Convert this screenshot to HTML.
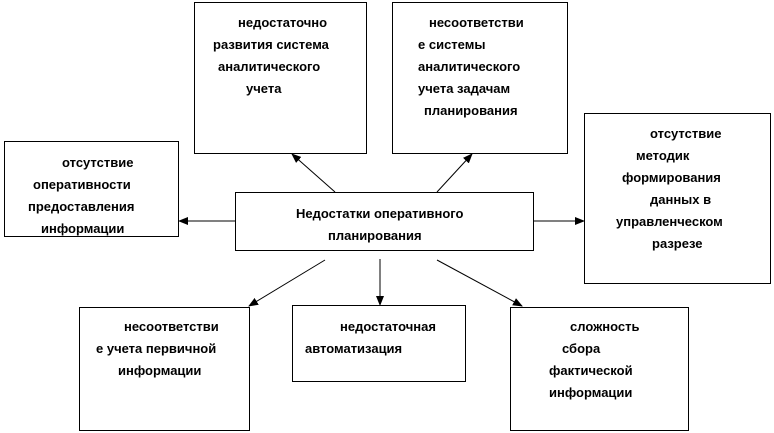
<!DOCTYPE html>
<html><head><meta charset="utf-8"><style>
html,body{margin:0;padding:0;background:#fff;}
svg{display:block;}
text{font-family:"Liberation Sans",sans-serif;font-weight:bold;font-size:13px;fill:#000;}
</style></head><body>
<svg width="774" height="433" viewBox="0 0 774 433" xmlns="http://www.w3.org/2000/svg">
<defs><marker id="a" markerWidth="10" markerHeight="8" refX="9" refY="4" orient="auto" markerUnits="userSpaceOnUse"><path d="M0,0 L10,4 L0,8 Z" fill="#000"/></marker></defs>
<g fill="none" stroke="#000" stroke-width="1">
<rect x="194.5" y="2.5" width="172" height="151"/>
<rect x="392.5" y="2.5" width="175" height="151"/>
<rect x="235.5" y="192.5" width="298" height="58"/>
<rect x="4.5" y="141.5" width="174" height="95"/>
<rect x="584.5" y="113.5" width="186" height="170"/>
<rect x="79.5" y="307.5" width="170" height="123"/>
<rect x="292.5" y="305.5" width="173" height="76"/>
<rect x="510.5" y="307.5" width="178" height="123"/>
<line x1="335" y1="192" x2="292" y2="154" marker-end="url(#a)"/>
<line x1="437" y1="192" x2="472" y2="154" marker-end="url(#a)"/>
<line x1="235" y1="221" x2="179" y2="221" marker-end="url(#a)"/>
<line x1="533" y1="221" x2="584" y2="221" marker-end="url(#a)"/>
<line x1="325" y1="260" x2="249" y2="306" marker-end="url(#a)"/>
<line x1="380" y1="259" x2="380" y2="305" marker-end="url(#a)"/>
<line x1="437" y1="260" x2="522" y2="306" marker-end="url(#a)"/>
</g>
<text x="238" y="27">недостаточно</text>
<text x="213" y="49">развития система</text>
<text x="218" y="71">аналитического</text>
<text x="246" y="93">учета</text>
<text x="429" y="27">несоответстви</text>
<text x="418" y="49">е системы</text>
<text x="418" y="71">аналитического</text>
<text x="418" y="93">учета задачам</text>
<text x="424" y="115">планирования</text>
<text x="62" y="167">отсутствие</text>
<text x="33" y="189">оперативности</text>
<text x="28" y="211">предоставления</text>
<text x="41" y="233">информации</text>
<text x="296" y="218">Недостатки оперативного</text>
<text x="328" y="240">планирования</text>
<text x="650" y="138">отсутствие</text>
<text x="636" y="160">методик</text>
<text x="622" y="182">формирования</text>
<text x="650" y="204">данных в</text>
<text x="616" y="226">управленческом</text>
<text x="652" y="248">разрезе</text>
<text x="124" y="331">несоответстви</text>
<text x="96" y="353">е учета первичной</text>
<text x="118" y="375">информации</text>
<text x="340" y="331">недостаточная</text>
<text x="305" y="353">автоматизация</text>
<text x="570" y="331">сложность</text>
<text x="562" y="353">сбора</text>
<text x="549" y="375">фактической</text>
<text x="549" y="397">информации</text>
</svg>
</body></html>
